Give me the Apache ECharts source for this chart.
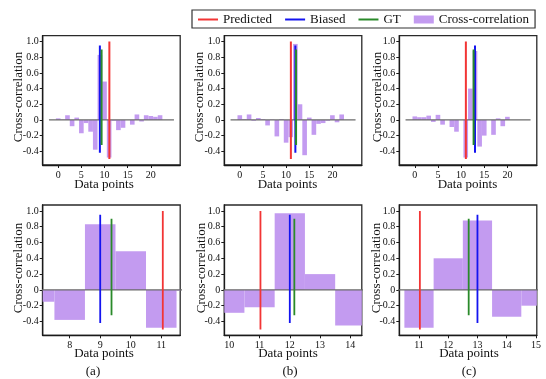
<!DOCTYPE html>
<html>
<head>
<meta charset="utf-8">
<script src="https://cdn.jsdelivr.net/npm/echarts@6/dist/echarts.min.js"></script>
<style>html,body{margin:0;padding:0;background:#fff}#chart{width:546px;height:379px}</style>
</head>
<body>
<div id="chart"></div>
<script>
// ---- data ----
const lagsAB = [0,1,2,3,4,5,6,7,8,9,10,11,12,13,14,15,16,17,18,19,20,21,22];
const lagsC = [0,1,2,3,4,5,6,7,8,9,10,11,12,13,14,15,16,17,18,19,20];
const corrA = [0.02,0.005,0.06,-0.08,0.03,-0.17,-0.04,-0.15,-0.38,0.83,0.49,-0.48,-0.01,-0.13,-0.1,0.0,-0.06,0.07,-0.02,0.06,0.05,0.04,0.06];
const corrB = [0.06,0.01,0.07,-0.01,0.025,0.01,-0.07,0.005,-0.21,0.01,-0.29,-0.22,0.97,0.2,-0.45,0.03,-0.19,-0.05,-0.04,-0.01,0.06,-0.03,0.07];
const corrC = [0.045,0.035,0.035,0.055,-0.025,0.065,-0.06,0.0,-0.09,-0.15,0.0,-0.48,0.4,0.88,-0.34,-0.2,0.0,-0.19,0.02,-0.08,0.04];
const predictedX = [11.05, 11.03, 11.03];
const biasedX = [9.0, 12.0, 13.0];
const gtX = [9.37, 12.15, 12.7];
const predictedSpan = [-0.5, 1.0];
const biasedSpan = [-0.42, 0.95];
const gtSpan = [-0.32, 0.9];
const zeroSpan = [-2, 25];
const topXTicks = [0,5,10,15,20];
const bottomXTicks = [[8,9,10,11],[10,11,12,13,14],[11,12,13,14,15]];
const yTicks = [-0.4,-0.2,0,0.2,0.4,0.6,0.8,1.0];
const topXRange = [-3.35, 26.35];
const bottomXRanges = [[7.116,11.62],[9.835,14.38],[10.326,15.03]];
const yRange = [-0.575, 1.075];
const panelLabels = ['(a)','(b)','(c)'];

// ---- layout / style ----
const FONT = 'Liberation Serif';
const BAR = '#c39bf0';
const RED = '#f23535', BLUE = '#1414f0', GREEN = '#2a8a2a';
const lefts = [42.7, 224.3, 399.3];
const W = 137.5;
const rows = [{top:35.7, h:129.3}, {top:205, h:130.3}];
const corrs = [corrA, corrB, corrC];
const lagsList = [lagsAB, lagsAB, lagsC];

const chart = echarts.init(document.getElementById('chart'), null, {renderer:'canvas'});
const grid = [], xAxis = [], yAxis = [], series = [], graphic = [];

function yFmt(v){ if (Math.abs(v) < 1e-9) return '0'; return v.toFixed(1); }

let gi = 0;
for (let r = 0; r < 2; r++) {
  for (let p = 0; p < 3; p++) {
    grid.push({left: lefts[p], top: rows[r].top, width: W, height: rows[r].h, show: true,
      borderColor: '#2a2a2a', borderWidth: 1.3, backgroundColor: '#fff', containLabel: false});
    const xr = r === 0 ? topXRange : bottomXRanges[p];
    const xt = r === 0 ? topXTicks : bottomXTicks[p];
    xAxis.push({type:'value', gridIndex: gi, min: xr[0], max: xr[1],
      axisLine:{show:true, onZero:false, lineStyle:{color:'#1a1a1a', width:1.3}},
      axisTick:{show:true, length:3, customValues: xt, lineStyle:{color:'#1a1a1a'}},
      axisLabel:{customValues: xt, margin:5, fontFamily: FONT, fontSize:10, color:'#111'},
      splitLine:{show:false}});
    yAxis.push({type:'value', gridIndex: gi, min: yRange[0], max: yRange[1],
      axisLine:{show:true, onZero:false, lineStyle:{color:'#1a1a1a', width:1.3}},
      axisTick:{show:true, length:3, customValues: yTicks, lineStyle:{color:'#1a1a1a'}},
      axisLabel:{customValues: yTicks, margin:4, fontFamily: FONT, fontSize:10, color:'#111', formatter: yFmt},
      splitLine:{show:false}});
    const lags = lagsList[p], vals = corrs[p];
    series.push({name:'Cross-correlation', type:'custom', xAxisIndex: gi, yAxisIndex: gi, z: 2,
      itemStyle:{color: BAR},
      data: lags.map((l,i) => [l, vals[i]]),
      renderItem: function(params, api){
        const x = api.value(0), v = api.value(1);
        const a = api.coord([x - 0.5, v]);
        const b = api.coord([x + 0.5, 0]);
        const rect = {x: a[0], y: Math.min(a[1], b[1]), width: b[0] - a[0], height: Math.abs(b[1] - a[1])};
        const cs = params.coordSys;
        const c = echarts.graphic.clipRectByRect(rect, {x: cs.x, y: cs.y, width: cs.width, height: cs.height});
        if (!c) return;
        return {type:'rect', shape: c, style: {fill: BAR}};
      }});
    series.push({name:'zero', type:'line', xAxisIndex: gi, yAxisIndex: gi, z: 3, symbol:'none', silent:true,
      lineStyle:{color:'#6a6a6a', width:1.3}, data: [[zeroSpan[0],0],[zeroSpan[1],0]]});
    const lw = r === 0 ? 2 : 1.8;
    series.push({name:'Predicted', type:'line', xAxisIndex: gi, yAxisIndex: gi, z: 4, symbol:'none',
      itemStyle:{color: RED}, lineStyle:{color: RED, width: lw},
      data: [[predictedX[p], predictedSpan[0]],[predictedX[p], predictedSpan[1]]]});
    series.push({name:'Biased', type:'line', xAxisIndex: gi, yAxisIndex: gi, z: 4, symbol:'none',
      itemStyle:{color: BLUE}, lineStyle:{color: BLUE, width: lw},
      data: [[biasedX[p], biasedSpan[0]],[biasedX[p], biasedSpan[1]]]});
    series.push({name:'GT', type:'line', xAxisIndex: gi, yAxisIndex: gi, z: 5, symbol:'none',
      itemStyle:{color: GREEN}, lineStyle:{color: GREEN, width: lw},
      data: [[gtX[p], gtSpan[0]],[gtX[p], gtSpan[1]]]});
    gi++;
  }
}

// axis titles and panel labels
const xTitleCx = [[104, 287.5, 467.5],[104, 288, 469]];
const xTitleCy = [185, 354];
const yTitleCx = [[18.3, 200, 377.3],[18.3, 201.7, 376.7]];
const yTitleCy = [97, 268];
const TFONT = '13px "Liberation Serif"';
for (let r = 0; r < 2; r++) for (let p = 0; p < 3; p++) {
  graphic.push({type:'text', x: xTitleCx[r][p], y: xTitleCy[r], style:{text:'Data points', font: TFONT, fill:'#111', align:'center', verticalAlign:'middle'}});
  graphic.push({type:'text', x: yTitleCx[r][p], y: yTitleCy[r], rotation: Math.PI/2, style:{text:'Cross-correlation', font: TFONT, fill:'#111', align:'center', verticalAlign:'middle'}});
}
const lblCx = [93, 290, 469];
for (let p = 0; p < 3; p++) graphic.push({type:'text', x: lblCx[p], y: 371.5, style:{text: panelLabels[p], font: TFONT, fill:'#111', align:'center', verticalAlign:'middle'}});

const LINE_ICON = 'path://M0,0H20V2H0Z';
chart.setOption({
  animation: false,
  backgroundColor: '#fff',
  grid, xAxis, yAxis, series, graphic,
  legend: {left: 192, top: 10, orient:'horizontal', itemWidth: 20, itemHeight: 8, itemGap: 13,
    padding: [3,6,2,6], borderColor:'#333', borderWidth: 1.2, backgroundColor:'#fff',
    textStyle:{fontFamily: FONT, fontSize: 13, color:'#111'},
    data: [{name:'Predicted', icon: LINE_ICON}, {name:'Biased', icon: LINE_ICON}, {name:'GT', icon: LINE_ICON}, {name:'Cross-correlation', icon:'rect'}]}
});
</script>
</body>
</html>
